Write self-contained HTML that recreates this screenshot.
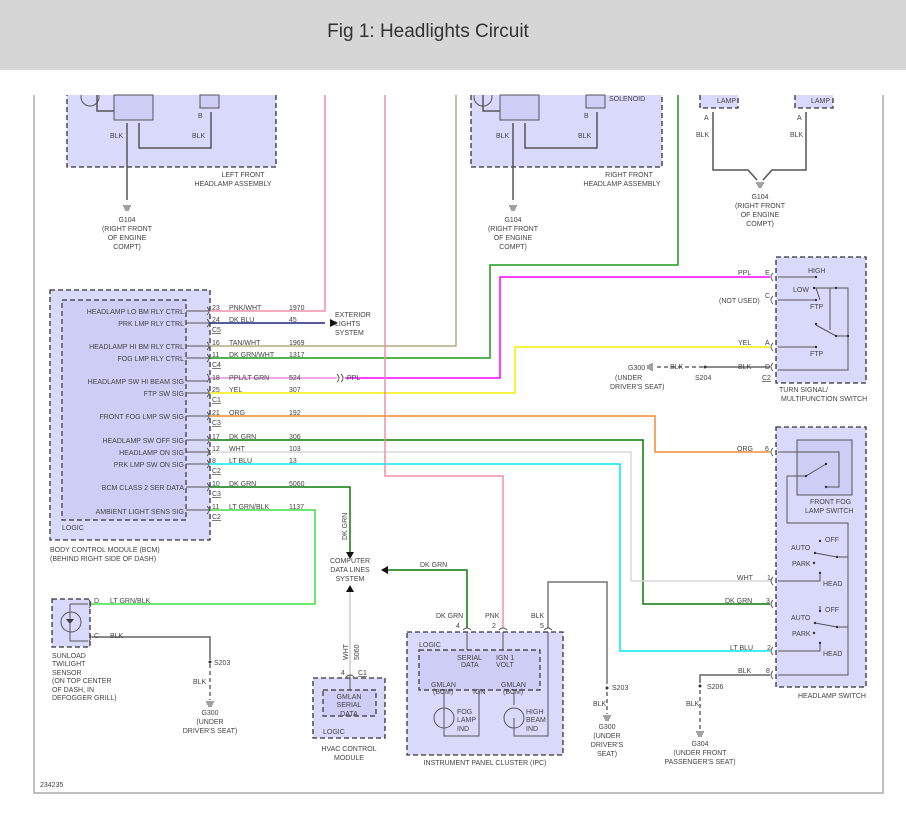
<!DOCTYPE html>
<html><head><meta charset="utf-8"><style>
body{margin:0;background:#fff;}
svg text{font-family:"Liberation Sans",sans-serif;font-size:7px;fill:#444;}
</style></head><body>
<svg width="906" height="811" viewBox="0 0 906 811" xmlns="http://www.w3.org/2000/svg">
<rect x="0" y="0" width="906" height="70" fill="#d6d6d6"/>
<text x="428" y="37" text-anchor="middle" style="font-size:19px;fill:#333">Fig 1: Headlights Circuit</text>
<path d="M34 95 V793 H883 V95" fill="none" stroke="#aaa" stroke-width="1.5"/>

<g fill="#d9d9fb" stroke="#333" stroke-width="1.3" stroke-dasharray="5,3">
<rect x="67" y="88" width="209" height="79"/>
<rect x="471" y="88" width="191" height="79"/>
<rect x="700" y="88" width="38" height="20"/>
<rect x="795" y="88" width="38" height="20"/>
<rect x="50" y="290" width="160" height="250"/>
<rect x="776" y="257" width="90" height="126"/>
<rect x="776" y="427" width="90" height="260"/>
<rect x="52" y="599" width="38" height="48"/>
<rect x="313" y="678" width="72" height="60"/>
<rect x="407" y="632" width="156" height="123"/>
</g>
<g fill="none" stroke="#555" stroke-width="1"><circle cx="90" cy="97" r="9"/><circle cx="483" cy="97" r="9"/></g>
<rect x="0" y="70" width="906" height="25" fill="#fff"/>
<g fill="#cdcdf6" stroke="#333" stroke-width="1.2" stroke-dasharray="5,3">
<rect x="62" y="300" width="124" height="220"/>
<rect x="323" y="690" width="53" height="26"/>
<rect x="419" y="650" width="121" height="40"/>
</g>
<rect x="797" y="440" width="55" height="55" fill="#cdcdf6" stroke="#555" stroke-width="1"/>
<g fill="#cdcdf6" stroke="#555" stroke-width="1">
<rect x="114" y="95" width="39" height="25"/>
<rect x="200" y="95" width="19" height="13"/>
<rect x="500" y="95" width="39" height="25"/>
<rect x="586" y="95" width="19" height="13"/>
</g>
<g fill="none" stroke="#555" stroke-width="1.5">
<path d="M127 123 V200"/><path d="M139 123 V148 H211 V112"/>
<path d="M513 123 V200"/><path d="M525 123 V148 H597 V112"/>
<path d="M713 112 V170 H748 L757 180"/><path d="M806 112 V170 H772 L763 180"/>
<path d="M97 95 V111 H114"/><path d="M483 95 V111 H500"/>
</g>
<g fill="#444">
<text x="110" y="138">BLK</text><text x="192" y="138">BLK</text><text x="198" y="118">B</text>
<text x="496" y="138">BLK</text><text x="578" y="138">BLK</text><text x="584" y="118">B</text>
<text x="609" y="101">SOLENOID</text>
<text x="243" y="177" text-anchor="middle">LEFT FRONT</text><text x="233" y="186" text-anchor="middle">HEADLAMP ASSEMBLY</text>
<text x="629" y="177" text-anchor="middle">RIGHT FRONT</text><text x="622" y="186" text-anchor="middle">HEADLAMP ASSEMBLY</text>
<text x="127" y="222" text-anchor="middle">G104</text><text x="127" y="231" text-anchor="middle">(RIGHT FRONT</text><text x="127" y="240" text-anchor="middle">OF ENGINE</text><text x="127" y="249" text-anchor="middle">COMPT)</text>
<text x="513" y="222" text-anchor="middle">G104</text><text x="513" y="231" text-anchor="middle">(RIGHT FRONT</text><text x="513" y="240" text-anchor="middle">OF ENGINE</text><text x="513" y="249" text-anchor="middle">COMPT)</text>
<text x="760" y="199" text-anchor="middle">G104</text><text x="760" y="208" text-anchor="middle">(RIGHT FRONT</text><text x="760" y="217" text-anchor="middle">OF ENGINE</text><text x="760" y="226" text-anchor="middle">COMPT)</text>
<text x="717" y="103">LAMP</text><text x="811" y="103">LAMP</text>
<text x="704" y="120">A</text><text x="797" y="120">A</text>
<text x="696" y="137">BLK</text><text x="790" y="137">BLK</text>
</g>
<g stroke="#444" stroke-width="1"><path d="M123 206h8M124 208h6M125 210h4M509 206h8M510 208h6M511 210h4M756 183h8M757 185h6M758 187h4"/></g>

<g fill="none" stroke-width="1.5">
<path d="M210 311 H325 V95" stroke="#f08fa8"/>
<path d="M210 323 H325" stroke="#1a237e"/>
<path d="M210 346 H456 V95" stroke="#b8a880"/>
<path d="M210 358 H490 V265 H678 V95" stroke="#1a9a1a"/>
<path d="M210 378 H337" stroke="#e88fe0"/>
<path d="M345 378 H500 V277 H770" stroke="#ff00ff"/>
<path d="M210 393 H515 V347 H770" stroke="#f0f000"/>
<path d="M210 416 H655 V452 H770" stroke="#f08c30"/>
<path d="M210 440 H643 V604 H770" stroke="#0a7a0a"/>
<path d="M210 452 H631 V581 H770" stroke="#d8d8d8"/>
<path d="M210 464 H620 V651 H770" stroke="#00e8f0"/>
<path d="M385 95 V476 H503 V628" stroke="#f08fa8"/>
<path d="M210 487 H350 V552" stroke="#0a7a0a"/>
<path d="M210 510 H315 V604 H92" stroke="#40e040"/>
<path d="M92 637 H210 V660" stroke="#666"/>
<path d="M350 675 V592" stroke="#ccc"/>
<path d="M467 628 V570 H388" stroke="#0a7a0a"/>
<path d="M548 628 V582 H607 V684" stroke="#777"/>
<path d="M770 675 H700 V683" stroke="#666"/>
<path d="M770 367 H705" stroke="#666"/>
<path d="M703 367 H655" stroke="#666" stroke-dasharray="4,3"/>
<path d="M210 664 V700 M607 692 V714 M700 690 V730" stroke="#666" stroke-dasharray="4,3"/>
</g>
<g fill="none" stroke="#555" stroke-width="0.9">
<path d="M207 307 q4 4 0 8M207 319 q4 4 0 8M207 342 q4 4 0 8M207 354 q4 4 0 8M207 374 q4 4 0 8M207 389 q4 4 0 8M207 412 q4 4 0 8M207 436 q4 4 0 8M207 448 q4 4 0 8M207 460 q4 4 0 8M207 483 q4 4 0 8M207 506 q4 4 0 8M337 374 q4 4 0 8M341 374 q4 4 0 8"/>
<path d="M773 273 q-4 4 0 8M773 296 q-4 4 0 8M773 343 q-4 4 0 8M773 363 q-4 4 0 8M773 448 q-4 4 0 8M773 577 q-4 4 0 8M773 600 q-4 4 0 8M773 647 q-4 4 0 8M773 671 q-4 4 0 8"/>
<path d="M89 600 q4 4 0 8M89 633 q4 4 0 8"/>
<path d="M346 677 q4 -4 8 0M463 630 q4 -4 8 0M499 630 q4 -4 8 0M544 630 q4 -4 8 0"/>
</g>
<g fill="#111"><path d="M330 319 L338 323 L330 327Z"/><path d="M346 552 L354 552 L350 559Z"/><path d="M346 592 L354 592 L350 585Z"/><path d="M388 566 V574 L381 570Z"/></g>
<g fill="#333"><circle cx="210" cy="662" r="1.5"/><circle cx="607" cy="688" r="1.5"/><circle cx="700" cy="686" r="1.5"/><circle cx="705" cy="367" r="1.5"/></g>
<g stroke="#444" stroke-width="1"><path d="M206 702h8M207 704h6M208 706h4M603 716h8M604 718h6M605 720h4M696 732h8M697 734h6M698 736h4M652 363v8M650 364v6M648 365v4"/></g>

<g text-anchor="end">
<text x="184" y="314">HEADLAMP LO BM RLY CTRL</text><text x="184" y="326">PRK LMP RLY CTRL</text>
<text x="184" y="349">HEADLAMP HI BM RLY CTRL</text><text x="184" y="361">FOG LMP RLY CTRL</text>
<text x="184" y="384">HEADLAMP SW HI BEAM SIG</text><text x="184" y="396">FTP SW SIG</text>
<text x="184" y="419">FRONT FOG LMP SW SIG</text>
<text x="184" y="443">HEADLAMP SW OFF SIG</text><text x="184" y="455">HEADLAMP ON SIG</text><text x="184" y="467">PRK LMP SW ON SIG</text>
<text x="184" y="490">BCM CLASS 2 SER DATA</text><text x="184" y="514">AMBIENT LIGHT SENS SIG</text>
</g>
<g stroke="#555" fill="none"><path d="M186 311h22M186 323h22M186 346h22M186 358h22M186 381h22M186 393h22M186 416h22M186 440h22M186 452h22M186 464h22M186 487h22M186 510h22"/></g>
<text x="62" y="530">LOGIC</text>
<text x="50" y="552">BODY CONTROL MODULE (BCM)</text><text x="50" y="561">(BEHIND RIGHT SIDE OF DASH)</text>
<g>
<text x="212" y="310">23</text><text x="229" y="310">PNK/WHT</text><text x="289" y="310">1970</text>
<text x="212" y="322">24</text><text x="229" y="322">DK BLU</text><text x="289" y="322">45</text><text x="212" y="332" text-decoration="underline">C5</text>
<text x="212" y="345">16</text><text x="229" y="345">TAN/WHT</text><text x="289" y="345">1969</text>
<text x="212" y="357">11</text><text x="229" y="357">DK GRN/WHT</text><text x="289" y="357">1317</text><text x="212" y="367" text-decoration="underline">C4</text>
<text x="212" y="380">18</text><text x="229" y="380">PPL/LT GRN</text><text x="289" y="380">524</text><text x="347" y="380">PPL</text>
<text x="212" y="392">25</text><text x="229" y="392">YEL</text><text x="289" y="392">307</text><text x="212" y="402" text-decoration="underline">C1</text>
<text x="212" y="415">21</text><text x="229" y="415">ORG</text><text x="289" y="415">192</text><text x="212" y="425" text-decoration="underline">C3</text>
<text x="212" y="439">17</text><text x="229" y="439">DK GRN</text><text x="289" y="439">306</text>
<text x="212" y="451">12</text><text x="229" y="451">WHT</text><text x="289" y="451">103</text>
<text x="212" y="463">8</text><text x="229" y="463">LT BLU</text><text x="289" y="463">13</text><text x="212" y="473" text-decoration="underline">C2</text>
<text x="212" y="486">10</text><text x="229" y="486">DK GRN</text><text x="289" y="486">5060</text><text x="212" y="496" text-decoration="underline">C3</text>
<text x="212" y="509">11</text><text x="229" y="509">LT GRN/BLK</text><text x="289" y="509">1137</text><text x="212" y="519" text-decoration="underline">C2</text>
<text x="335" y="317">EXTERIOR</text><text x="335" y="326">LIGHTS</text><text x="335" y="335">SYSTEM</text>
<text x="347" y="540" transform="rotate(-90 347 540)">DK GRN</text>
<text x="350" y="563" text-anchor="middle">COMPUTER</text><text x="350" y="572" text-anchor="middle">DATA LINES</text><text x="350" y="581" text-anchor="middle">SYSTEM</text>
<text x="420" y="567">DK GRN</text>
</g>

<g fill="none" stroke="#555" stroke-width="1"><path d="M778 277 H816M778 300 H816M778 347 H816M778 370 H848 V288 H813M816 288 L820 300M816 325 L836 336 H848M830 288 V330" /></g>
<g fill="#333"><circle cx="816" cy="277" r="1.2"/><circle cx="814" cy="288" r="1.2"/><circle cx="836" cy="288" r="1.2"/><circle cx="816" cy="300" r="1.2"/><circle cx="816" cy="324" r="1.2"/><circle cx="836" cy="336" r="1.2"/><circle cx="848" cy="336" r="1.2"/><circle cx="816" cy="347" r="1.2"/></g>
<text x="808" y="273">HIGH</text><text x="793" y="292">LOW</text><text x="810" y="309">FTP</text><text x="810" y="356">FTP</text>
<text x="738" y="275">PPL</text><text x="765" y="275">E</text><text x="765" y="298">C</text><text x="719" y="303">(NOT USED)</text>
<text x="738" y="345">YEL</text><text x="765" y="345">A</text><text x="738" y="369">BLK</text><text x="765" y="369">D</text><text x="762" y="380" text-decoration="underline">C2</text>
<text x="628" y="370">G300</text><text x="615" y="380">(UNDER</text><text x="610" y="389">DRIVER'S SEAT)</text>
<text x="670" y="369">BLK</text><text x="695" y="380">S204</text>
<text x="779" y="392">TURN SIGNAL/</text><text x="781" y="401">MULTIFUNCTION SWITCH</text>

<g fill="none" stroke="#555" stroke-width="1"><path d="M778 452 H839 V487 H826M826 464 L806 476 H787 V523 H848 V675 H778M815 553 L837 557 H848M815 623 L837 627 H848M778 581 H820 V573M778 651 H820 V643M820 612 V606"/></g>
<g fill="#333"><circle cx="826" cy="464" r="1.2"/><circle cx="826" cy="487" r="1.2"/><circle cx="806" cy="476" r="1.2"/><circle cx="820" cy="541" r="1.2"/><circle cx="815" cy="553" r="1.2"/><circle cx="814" cy="563" r="1.2"/><circle cx="820" cy="573" r="1.2"/><circle cx="820" cy="611" r="1.2"/><circle cx="815" cy="623" r="1.2"/><circle cx="814" cy="633" r="1.2"/><circle cx="820" cy="643" r="1.2"/><circle cx="837" cy="557" r="1.2"/><circle cx="837" cy="627" r="1.2"/></g>
<text x="810" y="504">FRONT FOG</text><text x="805" y="513">LAMP SWITCH</text>
<text x="825" y="542">OFF</text><text x="791" y="550">AUTO</text><text x="792" y="566">PARK</text><text x="823" y="586">HEAD</text>
<text x="825" y="612">OFF</text><text x="791" y="620">AUTO</text><text x="792" y="636">PARK</text><text x="823" y="656">HEAD</text>
<text x="737" y="451">ORG</text><text x="765" y="451">6</text>
<text x="737" y="580">WHT</text><text x="767" y="580">1</text>
<text x="725" y="603">DK GRN</text><text x="766" y="603">3</text>
<text x="730" y="650">LT BLU</text><text x="767" y="650">2</text>
<text x="738" y="673">BLK</text><text x="766" y="673">8</text>
<text x="798" y="698">HEADLAMP SWITCH</text>
<text x="707" y="689">S206</text><text x="686" y="706">BLK</text>
<text x="700" y="746" text-anchor="middle">G304</text><text x="700" y="755" text-anchor="middle">(UNDER FRONT</text><text x="700" y="764" text-anchor="middle">PASSENGER'S SEAT)</text>

<circle cx="71" cy="622" r="10" fill="none" stroke="#555"/><path d="M66 619 h8 l-4 5z" fill="#333"/>
<path d="M70 604 H88 M70 604 V641 H88" fill="none" stroke="#555"/>
<text x="94" y="603">D</text><text x="110" y="603">LT GRN/BLK</text><text x="94" y="638">C</text><text x="110" y="638">BLK</text>
<text x="52" y="658">SUNLOAD</text><text x="52" y="666">TWILIGHT</text><text x="52" y="675">SENSOR</text><text x="52" y="683">(ON TOP CENTER</text><text x="52" y="692">OF DASH, IN</text><text x="52" y="700">DEFOGGER GRILL)</text>
<text x="214" y="665">S203</text><text x="193" y="684">BLK</text>
<text x="210" y="715" text-anchor="middle">G300</text><text x="210" y="724" text-anchor="middle">(UNDER</text><text x="210" y="733" text-anchor="middle">DRIVER'S SEAT)</text>

<path d="M350 675 V690" stroke="#555"/>
<text x="348" y="660" transform="rotate(-90 348 660)">WHT</text><text x="359" y="660" transform="rotate(-90 359 660)">5060</text>
<text x="341" y="675">4</text><text x="358" y="675" text-decoration="underline">C1</text>
<text x="349" y="699" text-anchor="middle">GMLAN</text><text x="349" y="707" text-anchor="middle">SERIAL</text><text x="349" y="716" text-anchor="middle">DATA</text>
<text x="323" y="734">LOGIC</text>
<text x="349" y="751" text-anchor="middle">HVAC CONTROL</text><text x="349" y="760" text-anchor="middle">MODULE</text>

<g fill="none" stroke="#555" stroke-width="1"><path d="M467 632 V650M503 632 V650M548 632 V736 H514 V718M444 690 V736 H479 V690M514 690 V705"/>
<circle cx="444" cy="718" r="10"/><circle cx="514" cy="718" r="10"/></g>
<text x="436" y="618">DK GRN</text><text x="485" y="618">PNK</text><text x="531" y="618">BLK</text>
<text x="456" y="628">4</text><text x="492" y="628">2</text><text x="540" y="628">5</text>
<text x="419" y="647">LOGIC</text>
<text x="457" y="660">SERIAL</text><text x="461" y="667">DATA</text><text x="496" y="660">IGN 1</text><text x="496" y="667">VOLT</text>
<text x="431" y="687">GMLAN</text><text x="433" y="694">(BCM)</text><text x="473" y="694">IGN</text><text x="501" y="687">GMLAN</text><text x="503" y="694">(BCM)</text>
<text x="457" y="714">FOG</text><text x="457" y="722">LAMP</text><text x="457" y="731">IND</text>
<text x="526" y="714">HIGH</text><text x="526" y="722">BEAM</text><text x="526" y="731">IND</text>
<text x="485" y="765" text-anchor="middle">INSTRUMENT PANEL CLUSTER (IPC)</text>
<text x="612" y="690">S203</text><text x="593" y="706">BLK</text>
<text x="607" y="729" text-anchor="middle">G300</text><text x="607" y="738" text-anchor="middle">(UNDER</text><text x="607" y="747" text-anchor="middle">DRIVER'S</text><text x="607" y="756" text-anchor="middle">SEAT)</text>
<text x="40" y="787">234235</text>
</svg>
</body></html>
